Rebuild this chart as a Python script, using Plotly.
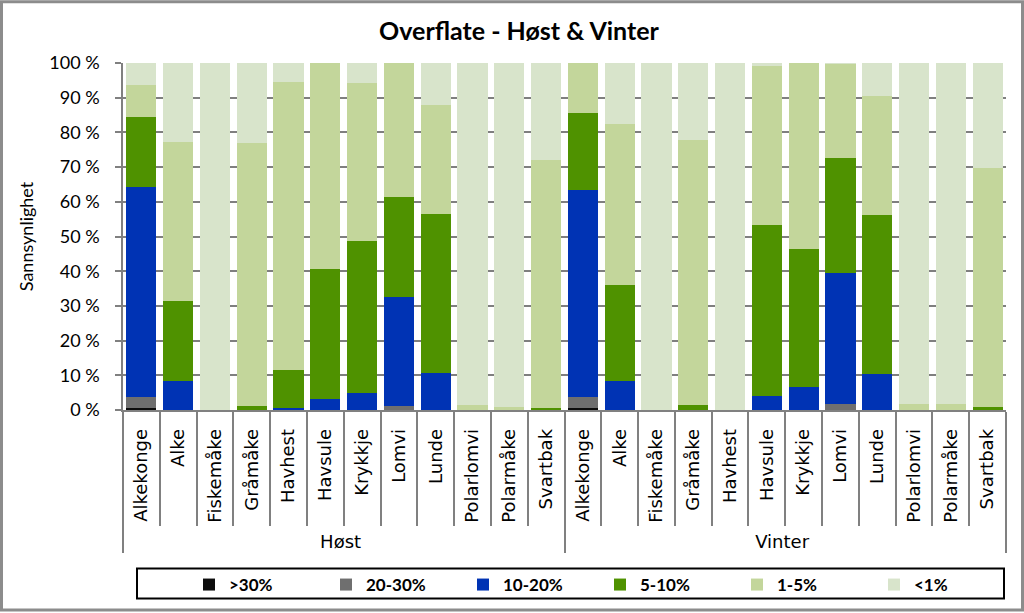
import plotly.graph_objects as go

birds = ["Alkekonge", "Alke", "Fiskemåke", "Gråmåke", "Havhest", "Havsule",
         "Krykkje", "Lomvi", "Lunde", "Polarlomvi", "Polarmåke", "Svartbak"]
seasons = ["Høst", "Vinter"]

# values in percent, order: Høst (12 birds) then Vinter (12 birds)
over30 = [0.5, 0, 0, 0, 0, 0, 0, 0, 0, 0, 0, 0,
          0.5, 0, 0, 0, 0, 0, 0, 0, 0, 0, 0, 0]
p20_30 = [3.2, 0, 0, 0, 0, 0, 0, 1.2, 0, 0, 0, 0,
          3.2, 0, 0, 0, 0, 0, 0, 1.8, 0, 0, 0, 0]
p10_20 = [60.5, 8.3, 0, 0, 0.5, 3.1, 4.9, 31.4, 10.6, 0, 0, 0,
          59.6, 8.3, 0, 0, 0, 4.0, 6.6, 37.6, 10.3, 0, 0, 0]
p5_10 = [20.2, 23.0, 0, 1.2, 10.9, 37.6, 43.9, 28.7, 45.9, 0, 0, 0.6,
         22.2, 27.6, 0, 1.5, 0, 49.4, 39.9, 33.3, 45.9, 0, 0, 0.9]
p1_5 = [9.4, 46.0, 0, 75.8, 83.0, 59.3, 45.3, 38.7, 31.3, 1.5, 0.8, 71.4,
        14.5, 46.5, 0, 76.4, 0, 45.8, 53.5, 27.1, 34.3, 1.8, 1.6, 68.9]
under1 = [6.2, 22.7, 100, 23.0, 5.6, 0, 5.9, 0, 12.2, 98.5, 99.2, 28.0,
          0, 17.6, 100, 22.1, 100, 0.8, 0, 0.2, 9.5, 98.2, 98.4, 30.2]

series = [
    (">30%", over30, "#0d0d0d"),
    ("20-30%", p20_30, "#6f6f6f"),
    ("10-20%", p10_20, "#0033b4"),
    ("5-10%", p5_10, "#4f9200"),
    ("1-5%", p1_5, "#c3d69b"),
    ("<1%", under1, "#d8e4cb"),
]

xs = [[s for s in seasons for _ in birds], [b for _ in seasons for b in birds]]

W, H = 1024, 613
L, R, T, B = 123, 18, 63, 202
PW, PH = W - L - R, H - T - B


def px_x(p):
    return (p - L) / PW


def px_y(p):
    return (H - B - p) / PH


fig = go.Figure()
for name, vals, col in series:
    fig.add_trace(go.Bar(x=xs, y=[v / 100 for v in vals], name=name,
                         marker=dict(color=col, line=dict(width=0))))

fig.update_layout(
    barmode="stack",
    bargap=0.18,
    width=W, height=H,
    paper_bgcolor="white", plot_bgcolor="white",
    margin=dict(l=L, r=R, t=T, b=B),
    title=dict(text="<b>Overflate - Høst & Vinter</b>", x=px_x(519), xref="paper",
               xanchor="center", y=1 - 31 / H, yanchor="middle",
               font=dict(family="Lato", size=25, color="black")),
    font=dict(family="Lato", color="black"),
    legend=dict(orientation="h", x=px_x(189), xanchor="left",
                y=px_y(585), yanchor="middle",
                borderwidth=0, bgcolor="rgba(0,0,0,0)",
                entrywidth=92, entrywidthmode="pixels",
                font=dict(family="Lato", size=17, color="black", weight="bold"),
                traceorder="normal"),
    showlegend=True,
    shapes=[
        dict(type="rect", xref="paper", yref="paper",
             x0=px_x(137), x1=px_x(1004), y0=px_y(600), y1=px_y(570),
             line=dict(color="black", width=2), fillcolor="rgba(0,0,0,0)"),
        dict(type="rect", xref="paper", yref="paper",
             x0=px_x(1.5), x1=px_x(W - 1.5), y0=px_y(H - 1.5), y1=px_y(1.5),
             line=dict(color="#8c8c8c", width=3), fillcolor="rgba(0,0,0,0)"),
    ],
)
fig.update_yaxes(range=[0, 1], automargin=False,
                 tickvals=[i / 10 for i in range(11)],
                 ticktext=[f"{i * 10} %" for i in range(11)],
                 showgrid=True, gridcolor="#7f7f7f", gridwidth=1.5,
                 showline=True, linecolor="#808080", linewidth=1.5,
                 ticks="outside", ticklen=6, tickcolor="#808080", tickwidth=1.5,
                 ticklabelstandoff=12,
                 tickfont=dict(family="Lato", size=18, color="black"),
                 title=dict(text="Sannsynlighet", font=dict(family="Lato", size=18, color="black"),
                            standoff=11))
fig.update_xaxes(type="multicategory", automargin=False,
                 showline=True, linecolor="#808080", linewidth=1.5,
                 tickangle=-90, tickson="boundaries", ticks="outside", ticklen=114,
                 tickcolor="#808080", tickwidth=1.5, ticklabelstandoff=10,
                 showdividers=True, dividercolor="#808080", dividerwidth=1.5,
                 tickfont=dict(family="DejaVu Sans", size=18, color="black"))

fig.write_html("out.html")
